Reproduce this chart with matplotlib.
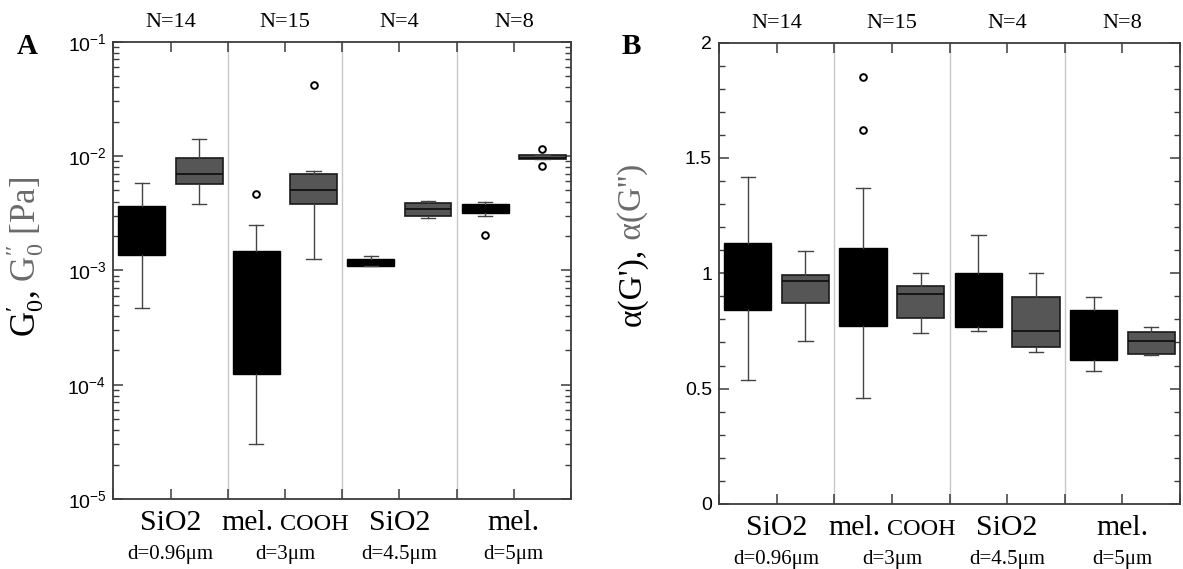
import matplotlib
matplotlib.use('Agg')
import matplotlib.pyplot as plt
import numpy as np
from matplotlib.ticker import LogLocator, FixedLocator, MultipleLocator, FuncFormatter, NullFormatter

plt.rcParams['font.family'] = ['Liberation Sans', 'DejaVu Sans']
plt.rcParams['mathtext.fontset'] = 'custom'
plt.rcParams['mathtext.rm'] = 'Liberation Serif'
plt.rcParams['mathtext.it'] = 'Liberation Serif:italic'
plt.rcParams['mathtext.bf'] = 'Liberation Serif:bold'

SERIF = ['Liberation Serif', 'DejaVu Serif']

# ---------------- data ----------------
materials = ['SiO2', 'mel.', 'SiO2', 'mel.']
material_suffix = ['', 'COOH', '', '']
diameters = ['d=0.96μm', 'd=3μm', 'd=4.5μm', 'd=5μm']
n_labels = ['N=14', 'N=15', 'N=4', 'N=8']

# Panel A: G0' (black boxes) [Pa]
gp_whislo = [4.7e-4, 3.0e-5, 1.09e-3, 3.0e-3]
gp_q1 = [1.36e-3, 1.25e-4, 1.10e-3, 3.16e-3]
gp_med = [2.3e-3, 6.0e-4, 1.17e-3, 3.5e-3]
gp_q3 = [3.68e-3, 1.48e-3, 1.25e-3, 3.79e-3]
gp_whishi = [5.78e-3, 2.48e-3, 1.34e-3, 3.99e-3]
gp_fliers = [[], [4.69e-3], [], [2.04e-3]]

# Panel A: G0'' (gray boxes) [Pa]
gpp_whislo = [3.81e-3, 1.26e-3, 2.87e-3, 9.4e-3]
gpp_q1 = [5.74e-3, 3.83e-3, 2.99e-3, 9.4e-3]
gpp_med = [6.93e-3, 5.08e-3, 3.43e-3, 9.7e-3]
gpp_q3 = [9.6e-3, 6.97e-3, 3.89e-3, 1.02e-2]
gpp_whishi = [1.40e-2, 7.45e-3, 4.05e-3, 1.02e-2]
gpp_fliers = [[], [4.16e-2], [], [1.15e-2, 8.18e-3]]

# Panel B: alpha(G') (black boxes)
ap_whislo = [0.537, 0.458, 0.748, 0.578]
ap_q1 = [0.841, 0.771, 0.767, 0.625]
ap_med = [1.0, 0.95, 0.9, 0.75]
ap_q3 = [1.133, 1.108, 1.0, 0.842]
ap_whishi = [1.419, 1.369, 1.167, 0.899]
ap_fliers = [[], [1.85, 1.62], [], []]

# Panel B: alpha(G'') (gray boxes)
app_whislo = [0.708, 0.74, 0.659, 0.647]
app_q1 = [0.873, 0.807, 0.682, 0.651]
app_med = [0.967, 0.909, 0.751, 0.708]
app_q3 = [0.994, 0.946, 0.899, 0.745]
app_whishi = [1.098, 1.0, 1.0, 0.768]
app_fliers = [[], [], [], []]

GRAY = '#565656'
LABEL_GRAY = '#6a6a6a'
SPINE = '#3c3c3c'


def make_stats(lo, q1, med, q3, hi, fl):
    return [dict(whislo=a, q1=b, med=c, q3=d, whishi=e, fliers=f)
            for a, b, c, d, e, f in zip(lo, q1, med, q3, hi, fl)]


W = 0.41
OFF = 0.25
CAPW = 0.125
pos = np.arange(1, len(materials) + 1)

flierprops = dict(marker='o', markerfacecolor='none', markeredgecolor='black',
                  markersize=4.8, markeredgewidth=1.4, linestyle='none')
whiskerprops = dict(color='#444444', linewidth=1.0)
capprops = dict(color='#444444', linewidth=1.0)


def draw_boxes(ax, black_stats, gray_stats):
    ax.bxp(black_stats, positions=pos - OFF, widths=W, capwidths=CAPW,
           patch_artist=True, manage_ticks=False, showfliers=True,
           boxprops=dict(facecolor='black', edgecolor='black', linewidth=1.0),
           medianprops=dict(color='black', linewidth=1.0),
           whiskerprops=whiskerprops, capprops=capprops, flierprops=flierprops)
    ax.bxp(gray_stats, positions=pos + OFF, widths=W, capwidths=CAPW,
           patch_artist=True, manage_ticks=False, showfliers=True,
           boxprops=dict(facecolor=GRAY, edgecolor='#1a1a1a', linewidth=1.2),
           medianprops=dict(color='#111111', linewidth=1.3),
           whiskerprops=whiskerprops, capprops=capprops, flierprops=flierprops)


L1 = -22.5   # baseline offset (pt) of material line
L2 = -43.0   # baseline offset (pt) of diameter line


def style_axes(ax):
    ax.set_xlim(0.5, len(materials) + 0.5)
    for s in ax.spines.values():
        s.set_color(SPINE)
        s.set_linewidth(1.3)
    for xs in pos[:-1] + 0.5:
        ax.axvline(xs, color='#c8c8c8', linewidth=1.0, zorder=0)
    ax.xaxis.set_major_locator(FixedLocator(np.arange(0.5, len(materials) + 0.51, 0.5)))
    ax.xaxis.set_major_formatter(NullFormatter())
    ax.tick_params(axis='both', which='major', direction='in', top=True, right=True,
                   length=7.2, width=1.1, color=SPINE, labelsize=14, pad=5)
    ax.tick_params(axis='both', which='minor', direction='in', top=True, right=True,
                   length=4.2, width=1.0, color=SPINE)
    ax.tick_params(axis='x', which='minor', bottom=False, top=False)
    # N labels above
    for p, n in zip(pos, n_labels):
        ax.annotate(n, xy=(p, 1), xycoords=('data', 'axes fraction'),
                    xytext=(0, 13.7), textcoords='offset points',
                    ha='center', va='center', fontsize=16, family=SERIF)
    # category labels below
    fig = ax.figure
    fig.canvas.draw()
    r = fig.canvas.get_renderer()
    for p, m, suf, d in zip(pos, materials, material_suffix, diameters):
        if suf:
            t1 = ax.annotate(m, xy=(p, 0), xycoords=('data', 'axes fraction'),
                             xytext=(0, L1), textcoords='offset points',
                             ha='left', va='baseline', fontsize=21.5, family=SERIF)
            t2 = ax.annotate(suf, xy=(p, 0), xycoords=('data', 'axes fraction'),
                             xytext=(0, L1), textcoords='offset points',
                             ha='left', va='baseline', fontsize=17.5, family=SERIF)
            w1 = t1.get_window_extent(r).width
            w2 = t2.get_window_extent(r).width
            sep = 6.0
            tot = w1 + sep + w2
            k = 72.0 / fig.dpi
            t1.set_position((-tot / 2 * k, L1))
            t2.set_position(((-tot / 2 + w1 + sep) * k, L1))
        else:
            ax.annotate(m, xy=(p, 0), xycoords=('data', 'axes fraction'),
                        xytext=(0, L1), textcoords='offset points',
                        ha='center', va='baseline', fontsize=21.5, family=SERIF)
        ax.annotate(d, xy=(p, 0), xycoords=('data', 'axes fraction'),
                    xytext=(0, L2), textcoords='offset points',
                    ha='center', va='baseline', fontsize=15, family=SERIF)


fig = plt.figure(figsize=(11.83, 5.69), dpi=100)
FW, FH = 1183.0, 569.0

# ---------------- Panel A ----------------
axA = fig.add_axes([113.3 / FW, (FH - 499) / FH, 457.7 / FW, 457.3 / FH])
axA.set_yscale('log')
draw_boxes(axA,
           make_stats(gp_whislo, gp_q1, gp_med, gp_q3, gp_whishi, gp_fliers),
           make_stats(gpp_whislo, gpp_q1, gpp_med, gpp_q3, gpp_whishi, gpp_fliers))
axA.set_ylim(1e-5, 1e-1)
axA.yaxis.set_major_locator(LogLocator(base=10, numticks=10))
axA.yaxis.set_minor_locator(LogLocator(base=10, subs=np.arange(2, 10), numticks=20))
axA.yaxis.set_minor_formatter(NullFormatter())
axA.yaxis.set_major_formatter(FuncFormatter(
    lambda v, p: r'$\mathdefault{10^{%d}}$' % int(round(np.log10(v)))))
style_axes(axA)

# ---------------- Panel B ----------------
axB = fig.add_axes([719 / FW, (FH - 504) / FH, 461 / FW, 461.5 / FH])
draw_boxes(axB,
           make_stats(ap_whislo, ap_q1, ap_med, ap_q3, ap_whishi, ap_fliers),
           make_stats(app_whislo, app_q1, app_med, app_q3, app_whishi, app_fliers))
axB.set_ylim(0, 2)
axB.yaxis.set_major_locator(MultipleLocator(0.5))
axB.yaxis.set_minor_locator(MultipleLocator(0.1))
axB.yaxis.set_major_formatter(FuncFormatter(lambda v, p: '%g' % v))
style_axes(axB)

# ---------------- panel letters ----------------
fig.text(27 / FW, 1 - 47 / FH, 'A', fontsize=21, fontweight='bold', family=SERIF,
         ha='center', va='center')
fig.text(631 / FW, 1 - 46 / FH, 'B', fontsize=21, fontweight='bold', family=SERIF,
         ha='center', va='center')

# ---------------- y labels (two colours) ----------------
ax_y_A = (35 / FW, 1 - 290 / FH)
fig.text(ax_y_A[0], ax_y_A[1], r"$\mathrm{G}_0^{\prime}$,", rotation=90,
         rotation_mode='anchor', ha='right', va='baseline', fontsize=25,
         family=SERIF, color='black')
fig.text(ax_y_A[0], ax_y_A[1], r" $\mathrm{G}_0^{\prime\prime}$ [Pa]", rotation=90,
         rotation_mode='anchor', ha='left', va='baseline', fontsize=25,
         family=SERIF, color=LABEL_GRAY)

ax_y_B = (641 / FW, 1 - 248 / FH)
fig.text(ax_y_B[0], ax_y_B[1], "α(G'),", rotation=90,
         rotation_mode='anchor', ha='right', va='baseline', fontsize=24,
         family=SERIF, color='black')
fig.text(ax_y_B[0], ax_y_B[1], " α(G'')", rotation=90,
         rotation_mode='anchor', ha='left', va='baseline', fontsize=24,
         family=SERIF, color=LABEL_GRAY)

fig.savefig('out.png', dpi=100)
